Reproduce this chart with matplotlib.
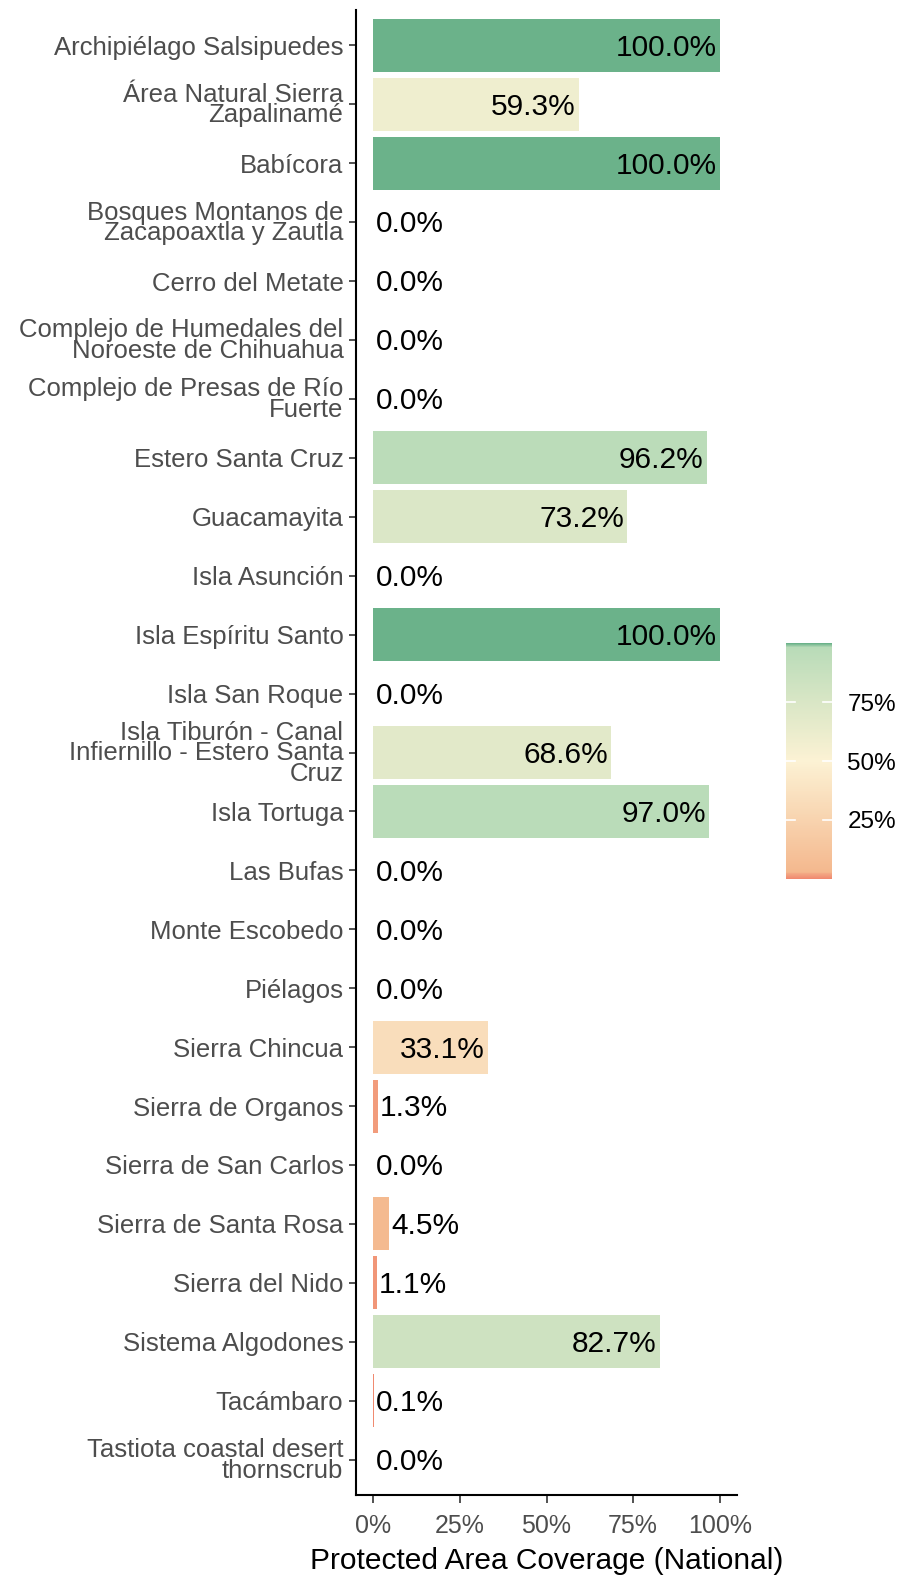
import numpy as np
import matplotlib
matplotlib.use("Agg")
from matplotlib import pyplot as plt
from matplotlib.colors import LinearSegmentedColormap, Normalize
from matplotlib.ticker import FuncFormatter

plt.rcParams['font.family'] = ['Liberation Sans', 'DejaVu Sans']

# data
sites = [
    "Archipiélago Salsipuedes",
    "Área Natural Sierra\nZapalinamé",
    "Babícora",
    "Bosques Montanos de\nZacapoaxtla y Zautla",
    "Cerro del Metate",
    "Complejo de Humedales del\nNoroeste de Chihuahua",
    "Complejo de Presas de Río\nFuerte",
    "Estero Santa Cruz",
    "Guacamayita",
    "Isla Asunción",
    "Isla Espíritu Santo",
    "Isla San Roque",
    "Isla Tiburón - Canal\nInfiernillo - Estero Santa\nCruz",
    "Isla Tortuga",
    "Las Bufas",
    "Monte Escobedo",
    "Piélagos",
    "Sierra Chincua",
    "Sierra de Organos",
    "Sierra de San Carlos",
    "Sierra de Santa Rosa",
    "Sierra del Nido",
    "Sistema Algodones",
    "Tacámbaro",
    "Tastiota coastal desert\nthornscrub",
]
coverage = [100.0, 59.3, 100.0, 0.0, 0.0, 0.0, 0.0, 96.2, 73.2, 0.0, 100.0, 0.0,
            68.6, 97.0, 0.0, 0.0, 0.0, 33.1, 1.3, 0.0, 4.5, 1.1, 82.7, 0.1, 0.0]
x_ticks = [0, 25, 50, 75, 100]
cbar_ticks = [25, 50, 75]

cmap = LinearSegmentedColormap.from_list("cov", [
    (0.0, "#F08A70"), (0.03, "#F4B88E"), (0.5, "#FCF2D4"),
    (0.985, "#B8DBB8"), (1.0, "#6BB28A")])
norm = Normalize(0, 100)

fig = plt.figure(figsize=(9.03, 15.77), dpi=100)
W, H = 903, 1577
ax = fig.add_axes([356 / W, 1 - 1495 / H, (737 - 356) / W, (1495 - 10) / H])

n = len(sites)
ypos = np.arange(n)
ax.barh(ypos, coverage, height=0.9, color=cmap(norm(np.array(coverage))), linewidth=0)
ax.set_ylim(n - 1 + 0.6, -0.6)
ax.set_xlim(-5, 105)

for y, v in zip(ypos, coverage):
    if v > 20:
        ax.text(v - 0.8, y + 0.04, f"{v:.1f}%", ha='right', va='center', fontsize=21.5, color='black')
    else:
        ax.text(v + 0.6, y + 0.04, f"{v:.1f}%", ha='left', va='center', fontsize=21.5, color='black')

ax.set_yticks(ypos)
ax.set_yticklabels(sites, fontsize=18.5, color='#4D4D4D', linespacing=0.82)
ax.set_xticks(x_ticks)
ax.xaxis.set_major_formatter(FuncFormatter(lambda v, p: f"{v:.0f}%"))
ax.tick_params(axis='x', labelsize=18, labelcolor='#4D4D4D', length=6, width=1.2,
               color='#333333', pad=8)
ax.tick_params(axis='y', length=5, width=1.2, color='#333333', pad=4)
for s in ['top', 'right']:
    ax.spines[s].set_visible(False)
for s in ['left', 'bottom']:
    ax.spines[s].set_linewidth(1.5)
ax.set_xlabel("Protected Area Coverage (National)", fontsize=21.5, color='black', labelpad=6)

# colour bar
cax = fig.add_axes([786 / W, 1 - 879 / H, 46 / W, (879 - 643) / H])
sm = plt.cm.ScalarMappable(cmap=cmap, norm=norm)
cb = fig.colorbar(sm, cax=cax, ticks=cbar_ticks)
cb.outline.set_visible(False)
cb.ax.yaxis.set_major_formatter(FuncFormatter(lambda v, p: f"{v:.0f}%"))
cb.ax.tick_params(length=0, labelsize=17.5, pad=11)
for t in cbar_ticks:
    cax.plot([0, 0.2], [t, t], color='white', lw=1.2, transform=cax.get_yaxis_transform())
    cax.plot([0.8, 1], [t, t], color='white', lw=1.2, transform=cax.get_yaxis_transform())

fig.savefig("out.png", dpi=100)
